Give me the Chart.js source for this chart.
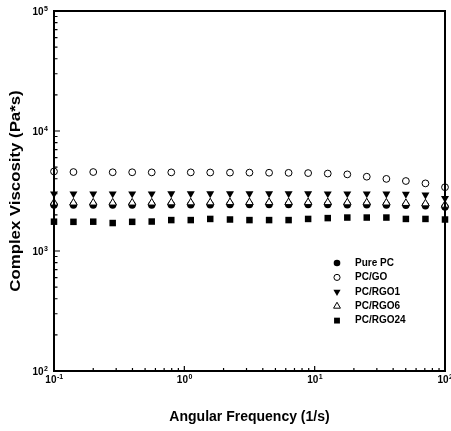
<!DOCTYPE html>
<html>
<head>
<meta charset="utf-8">
<script src="https://cdn.jsdelivr.net/npm/chart.js@4.4.1/dist/chart.umd.min.js"></script>
<style>
  body { margin: 0; background: #fff; }
  #wrap { width: 451px; height: 431px; }
</style>
</head>
<body>
<div id="wrap"><canvas id="chart" width="451" height="431"></canvas></div>
<script>
// angular frequency (1/s)
const frequency = [0.1, 0.141, 0.2, 0.282, 0.398, 0.562, 0.794, 1.12, 1.58, 2.24, 3.16,
    4.47, 6.31, 8.91, 12.6, 17.8, 25.1, 35.5, 50.1, 70.8, 100];

// complex viscosity (Pa*s)
const purePC = [2420, 2420, 2420, 2420, 2420, 2420, 2430, 2430, 2430, 2440, 2440,
    2440, 2440, 2440, 2440, 2430, 2430, 2420, 2400, 2380, 2330];
const pcGO = [4600, 4550, 4550, 4530, 4530, 4520, 4520, 4520, 4510, 4500, 4500,
    4490, 4480, 4460, 4420, 4350, 4160, 3990, 3830, 3660, 3400];
const pcRGO1 = [3000, 3000, 3000, 3000, 3000, 3000, 3010, 3010, 3010, 3010, 3010,
    3010, 3010, 3010, 3000, 3000, 3000, 2990, 2980, 2940, 2750];
const pcRGO6 = [2520, 2520, 2520, 2520, 2520, 2520, 2530, 2530, 2530, 2540, 2540,
    2540, 2540, 2540, 2540, 2530, 2530, 2520, 2500, 2480, 2420];
const pcRGO24 = [1755, 1750, 1755, 1710, 1750, 1760, 1810, 1810, 1850, 1830, 1810,
    1810, 1810, 1850, 1880, 1900, 1900, 1900, 1850, 1850, 1830];

const seriesNames = ['Pure PC', 'PC/GO', 'PC/RGO1', 'PC/RGO6', 'PC/RGO24'];

const xTickValues = [0.1, 1, 10, 100];
const xTickExps = ['-1', '0', '1', '2'];
const yTickValues = [100, 1000, 10000, 100000];
const yTickExps = ['2', '3', '4', '5'];

const xTitle = 'Angular Frequency (1/s)';
const yTitle = 'Complex Viscosity (Pa*s)';

const FONT = "'Liberation Sans', Arial, sans-serif";

// marker look per series
const markers = [
    { pointStyle: 'circle', radius: 3.7, rotation: 0, fill: '#000', borderWidth: 0 },
    { pointStyle: 'circle', radius: 3.4, rotation: 0, fill: '#fff', borderWidth: 1 },
    { pointStyle: 'triangle', radius: 4.6, rotation: 180, fill: '#000', borderWidth: 0 },
    { pointStyle: 'triangle', radius: 4.4, rotation: 0, fill: '#fff', borderWidth: 1 },
    { pointStyle: 'rect', radius: 4.6, rotation: 0, fill: '#000', borderWidth: 0 }
];

const values = [purePC, pcGO, pcRGO1, pcRGO6, pcRGO24];

const datasets = values.map((vals, i) => ({
    label: seriesNames[i],
    data: vals.map((v, j) => ({ x: frequency[j], y: v })),
    showLine: false,
    pointStyle: markers[i].pointStyle,
    pointRadius: markers[i].radius,
    pointRotation: markers[i].rotation,
    pointBackgroundColor: markers[i].fill,
    pointBorderColor: '#000',
    pointBorderWidth: markers[i].borderWidth,
    clip: false,
    order: i === 0 ? 1 : 0 // keep Pure PC under the open triangles
}));

// "10" with a raised exponent
function drawPower(ctx, exp, x, baseY, align) {
    ctx.font = 'bold 10px ' + FONT;
    const wBase = ctx.measureText('10').width;
    ctx.font = 'bold 7px ' + FONT;
    const wExp = ctx.measureText(exp).width;
    const left = align === 'right' ? x - wBase - wExp - 0.5 : x - (wBase + wExp) / 2;
    ctx.font = 'bold 10px ' + FONT;
    ctx.fillText('10', left, baseY);
    ctx.font = 'bold 7px ' + FONT;
    ctx.fillText(exp, left + wBase + 0.5, baseY - 4);
}

// frame with inward ticks, power tick labels and the rotated y title
const framePlugin = {
    id: 'frame',
    afterDraw(chart) {
        const { ctx, chartArea: a, scales: { x, y } } = chart;
        ctx.save();
        ctx.strokeStyle = '#000';
        ctx.lineWidth = 1.2;
        ctx.beginPath();
        for (let k = 0; k < yTickValues.length; k++) {
            const py = y.getPixelForValue(yTickValues[k]);
            ctx.moveTo(a.left, py);
            ctx.lineTo(a.left + 6, py);
            if (k === yTickValues.length - 1) break;
            for (let m = 2; m <= 9; m++) {
                const pm = y.getPixelForValue(yTickValues[k] * m);
                ctx.moveTo(a.left, pm);
                ctx.lineTo(a.left + 3.5, pm);
            }
        }
        for (let k = 0; k < xTickValues.length; k++) {
            const px = x.getPixelForValue(xTickValues[k]);
            ctx.moveTo(px, a.bottom);
            ctx.lineTo(px, a.bottom - 5);
            if (k === xTickValues.length - 1) break;
            for (let m = 2; m <= 9; m++) {
                const pm = x.getPixelForValue(xTickValues[k] * m);
                ctx.moveTo(pm, a.bottom);
                ctx.lineTo(pm, a.bottom - 3);
            }
        }
        ctx.stroke();

        ctx.lineWidth = 2;
        ctx.strokeRect(a.left, a.top, a.right - a.left, a.bottom - a.top);

        ctx.fillStyle = '#000';
        ctx.textAlign = 'left';
        ctx.textBaseline = 'alphabetic';
        yTickValues.forEach((v, k) => {
            drawPower(ctx, yTickExps[k], a.left - 6, y.getPixelForValue(v) + 4, 'right');
        });
        xTickValues.forEach((v, k) => {
            drawPower(ctx, xTickExps[k], x.getPixelForValue(v), a.bottom + 11.5, 'center');
        });

        // y title: the source figure is stretched along this axis
        ctx.translate(16, (a.top + a.bottom) / 2);
        ctx.rotate(-Math.PI / 2);
        ctx.scale(1.2, 1);
        ctx.font = 'bold 14px ' + FONT;
        ctx.textAlign = 'center';
        ctx.textBaseline = 'middle';
        ctx.fillText(yTitle, 0, 0);
        ctx.restore();
    }
};

// legend sits inside the plot, bottom right
const legendPlugin = {
    id: 'insideLegend',
    afterDraw(chart) {
        const { ctx, chartArea: a } = chart;
        const mx = a.right - 108;
        const tx = a.right - 90;
        const rowH = 14.4;
        const y0 = a.bottom - 108;
        ctx.save();
        ctx.font = 'bold 10px ' + FONT;
        ctx.textBaseline = 'middle';
        ctx.textAlign = 'left';
        seriesNames.forEach((name, i) => {
            const yy = y0 + i * rowH;
            const mk = markers[i];
            ctx.fillStyle = mk.fill;
            ctx.strokeStyle = '#000';
            ctx.lineWidth = mk.borderWidth;
            Chart.helpers.drawPoint(ctx, {
                pointStyle: mk.pointStyle,
                radius: mk.radius * 0.9,
                rotation: mk.rotation,
                borderWidth: mk.borderWidth
            }, mx, yy);
            ctx.fillStyle = '#000';
            ctx.fillText(name, tx, yy);
        });
        ctx.restore();
    }
};

new Chart(document.getElementById('chart'), {
    type: 'scatter',
    data: { datasets },
    options: {
        responsive: false,
        animation: false,
        layout: { padding: { left: 0, right: 6, top: 11, bottom: 0 } },
        plugins: {
            legend: { display: false },
            tooltip: { enabled: false }
        },
        scales: {
            x: {
                type: 'logarithmic',
                min: 0.1,
                max: 100,
                grid: { display: false, drawTicks: false },
                border: { display: false },
                afterBuildTicks: s => { s.ticks = xTickValues.map(v => ({ value: v })); },
                afterFit: s => { s.height = 60; s.paddingLeft = 0; s.paddingRight = 0; },
                ticks: { display: false },
                title: {
                    display: true,
                    text: xTitle,
                    color: '#000',
                    font: { family: FONT, size: 14, weight: 'bold' },
                    padding: { top: 0, bottom: 5 }
                }
            },
            y: {
                type: 'logarithmic',
                min: 100,
                max: 100000,
                grid: { display: false, drawTicks: false },
                border: { display: false },
                afterBuildTicks: s => { s.ticks = yTickValues.map(v => ({ value: v })); },
                afterFit: s => { s.width = 54; s.paddingTop = 0; s.paddingBottom = 0; },
                ticks: { display: false },
                title: { display: false }
            }
        }
    },
    plugins: [framePlugin, legendPlugin]
});
</script>
</body>
</html>
